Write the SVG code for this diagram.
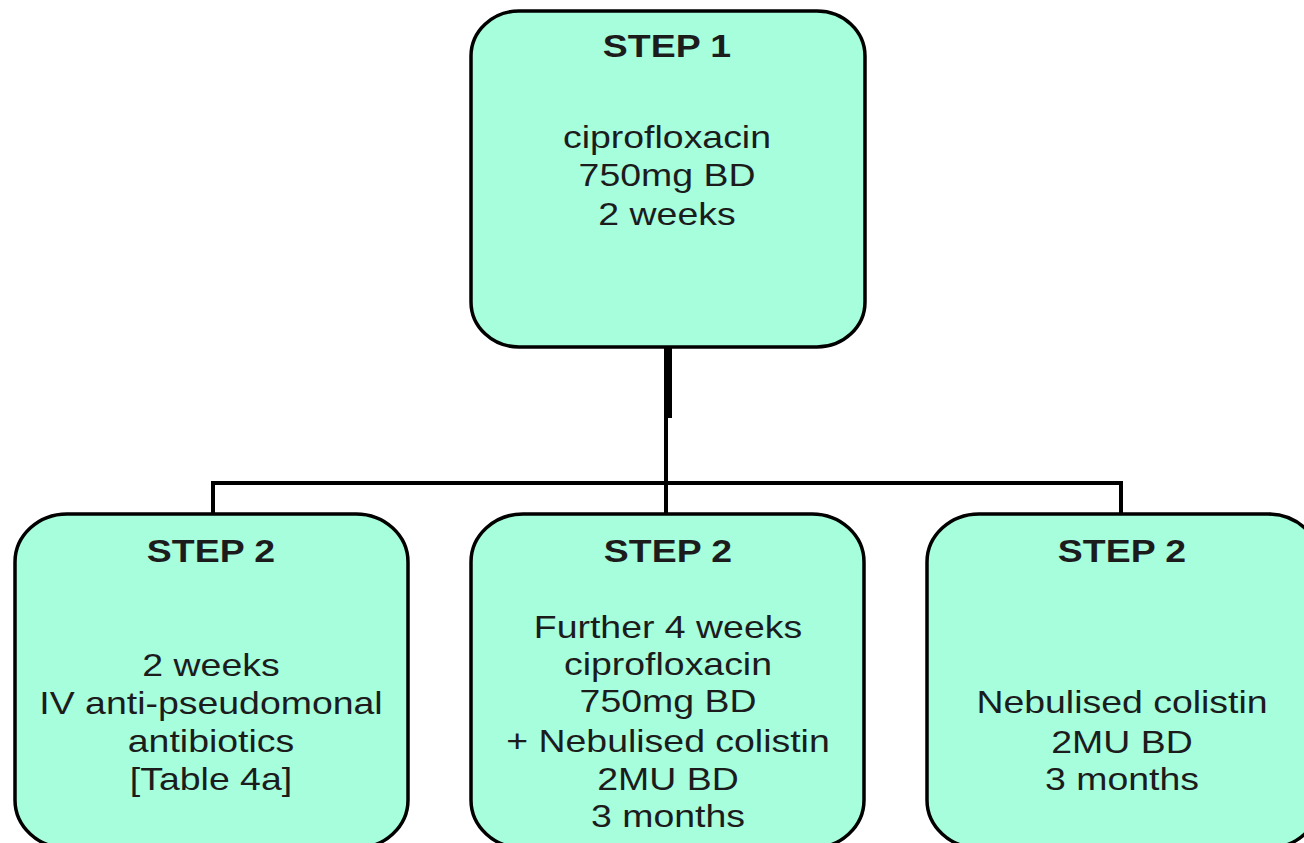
<svg xmlns="http://www.w3.org/2000/svg" width="1304" height="843" viewBox="0 0 1304 843">
  <style>
    .box { fill: #a6fedc; stroke: #000; stroke-width: 3.5; }
    .t { font-family: "Liberation Sans", Arial, sans-serif; font-size: 32px; fill: #1c1c1c; text-anchor: middle; }
    .h { font-weight: bold; }
    .ln { stroke: #000; fill: none; }
  </style>
  <rect width="1304" height="843" fill="#ffffff"/>
  <g id="connectors">
    <line class="ln" x1="668" y1="347" x2="668" y2="418" stroke-width="8"/>
    <line class="ln" x1="666" y1="416" x2="666" y2="513" stroke-width="4"/>
    <polyline class="ln" points="213,513 213,483 1121,483 1121,513" stroke-width="4"/>
  </g>
  <g id="step1">
    <rect class="box" x="471" y="11" width="394" height="336" rx="48" ry="45"/>
    <text class="t" transform="translate(667,0) scale(1.17,1)"><tspan class="h" x="0" y="57">STEP 1</tspan><tspan x="0" y="148">ciprofloxacin</tspan><tspan x="0" y="186">750mg BD</tspan><tspan x="0" y="225">2 weeks</tspan></text>
  </g>
  <g id="step2-iv">
    <rect class="box" x="15" y="514" width="393" height="334" rx="52" ry="48"/>
    <text class="t" transform="translate(211,0) scale(1.17,1)"><tspan class="h" x="0" y="562">STEP 2</tspan><tspan x="0" y="676">2 weeks</tspan><tspan x="0" y="714">IV anti-pseudomonal</tspan><tspan x="0" y="752">antibiotics</tspan><tspan x="0" y="790">[Table 4a]</tspan></text>
  </g>
  <g id="step2-cipro">
    <rect class="box" x="471" y="514" width="393" height="334" rx="52" ry="48"/>
    <text class="t" transform="translate(668,0) scale(1.17,1)"><tspan class="h" x="0" y="562">STEP 2</tspan><tspan x="0" y="638">Further 4 weeks</tspan><tspan x="0" y="675">ciprofloxacin</tspan><tspan x="0" y="712">750mg BD</tspan><tspan x="0" y="752">+ Nebulised colistin</tspan><tspan x="0" y="790">2MU BD</tspan><tspan x="0" y="827">3 months</tspan></text>
  </g>
  <g id="step2-colistin">
    <rect class="box" x="927" y="514" width="393" height="334" rx="52" ry="48"/>
    <text class="t" transform="translate(1122,0) scale(1.17,1)"><tspan class="h" x="0" y="562">STEP 2</tspan><tspan x="0" y="713">Nebulised colistin</tspan><tspan x="0" y="753">2MU BD</tspan><tspan x="0" y="790">3 months</tspan></text>
  </g>
</svg>
